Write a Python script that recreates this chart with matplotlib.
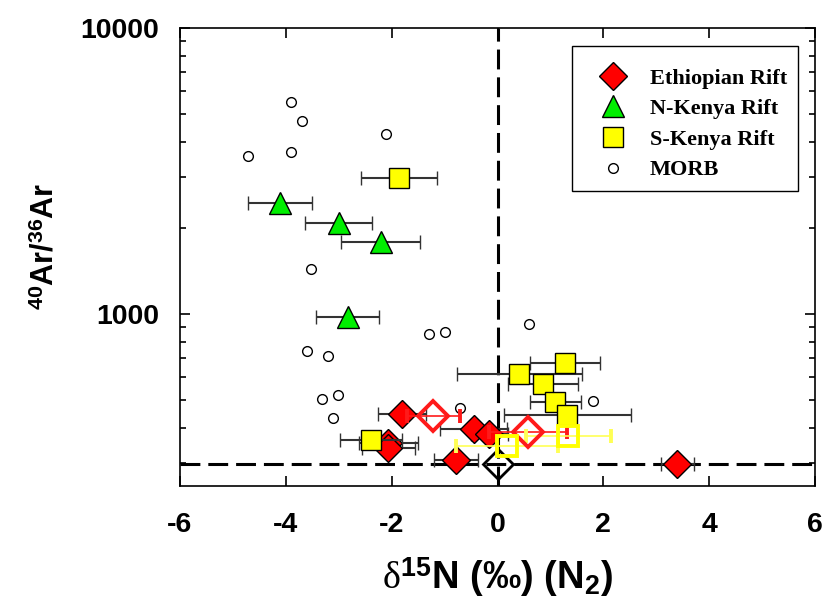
import matplotlib
matplotlib.use("Agg")
import matplotlib.pyplot as plt
from matplotlib.lines import Line2D
from matplotlib.ticker import LogLocator, NullFormatter, FixedLocator, FixedFormatter

# ---------------- data ----------------
# Ethiopian Rift (filled diamonds)
eth_x = [-1.80, -2.06, -2.06, -0.45, -0.16, -0.78, 3.40]
eth_y = [447, 354, 340, 396, 380, 309, 298]
eth_xerr = [0.45, 0.55, 0.50, 0.63, 0.35, 0.42, 0.31]

# Ethiopian Rift (open diamonds)
eth_open_x = [-1.21, 0.57]
eth_open_y = [440, 385]
eth_open_xerr = [0.50, 0.74]

# N-Kenya Rift (triangles)
nk_x = [-4.11, -3.00, -2.21, -2.83]
nk_y = [2450, 2085, 1782, 973]
nk_xerr = [0.60, 0.63, 0.75, 0.60]

# S-Kenya Rift (filled squares)
sk_x = [-1.86, -2.39, 0.41, 1.28, 0.86, 1.09, 1.32]
sk_y = [2980, 361, 615, 673, 569, 493, 444]
sk_xerr = [0.72, 0.58, 1.18, 0.66, 0.66, 0.48, 1.20]

# S-Kenya Rift (open squares)
sk_open_x = [0.18, 1.34]
sk_open_y = [344, 375]
sk_open_xerr = [0.96, 0.80]

# Air (open black diamond)
air_x = [0.0]
air_y = [298.6]

# MORB (open circles)
morb_x = [-3.90, -3.70, -2.10, -4.71, -3.91, -3.53, -1.30, -1.00,
          -3.60, -3.20, -3.31, -3.01, -3.10, -0.70, 0.59, 1.80]
morb_y = [5520, 4740, 4260, 3567, 3695, 1432, 851, 863,
          742, 713, 505, 521, 433, 469, 923, 497]

atm_ratio = 298.6
x_ticks = [-6, -4, -2, 0, 2, 4, 6]
y_ticks = [1000, 10000]
y_ticklabels = ["1000", "10000"]
legend_labels = ["Ethiopian Rift", "N-Kenya Rift", "S-Kenya Rift", "MORB"]

# ---------------- style ----------------
plt.rcParams['font.family'] = ['Liberation Sans', 'DejaVu Sans']
plt.rcParams['axes.unicode_minus'] = False
plt.rcParams['mathtext.fontset'] = 'custom'
plt.rcParams['mathtext.rm'] = 'Liberation Serif'
plt.rcParams['mathtext.it'] = 'Liberation Serif:italic'
plt.rcParams['mathtext.bf'] = 'Liberation Sans:bold'

fig = plt.figure(figsize=(8.24, 6.06), dpi=100)
ax = fig.add_axes([180/824, 1 - 486/606, (815-180)/824, (486-28)/606])

ax.set_yscale('log')
ax.set_xlim(-6, 6)
ax.set_ylim(250, 10000)

dash = (0, (6.5, 2.6))
ax.axhline(atm_ratio, color='black', lw=2.2, linestyle=dash, zorder=1)
ax.axvline(0, color='black', lw=2.2, linestyle=dash, zorder=1)

ecol = '#333333'
ms_sq = 14.5
ms_d = 14
ms_tri = 16.5
cap = 4.8

ax.plot(morb_x, morb_y, 'o', ms=7, mfc='white', mec='black', mew=1.0, zorder=2, linestyle='none')

ax.errorbar(nk_x, nk_y, xerr=nk_xerr, fmt='^', ms=ms_tri, mfc='#00ee00', mec='black', mew=1.0,
            ecolor=ecol, elinewidth=1.5, capsize=cap, capthick=1.5, zorder=3)
ax.errorbar(eth_x, eth_y, xerr=eth_xerr, fmt='D', ms=ms_d, mfc='#ff0000', mec='black', mew=1.0,
            ecolor=ecol, elinewidth=1.5, capsize=cap, capthick=1.5, zorder=3)
ax.errorbar(sk_x, sk_y, xerr=sk_xerr, fmt='s', ms=ms_sq, mfc='#ffff00', mec='black', mew=1.0,
            ecolor=ecol, elinewidth=1.5, capsize=cap, capthick=1.5, zorder=4)
ax.errorbar(eth_open_x, eth_open_y, xerr=eth_open_xerr, fmt='D', ms=15, mfc='none', mec='#ff1a1a', mew=2.8,
            ecolor='#ff1a1a', elinewidth=1.2, capsize=cap, capthick=1.2, zorder=5)
ax.errorbar(sk_open_x, sk_open_y, xerr=sk_open_xerr, fmt='s', ms=15, mfc='none', mec='#ffff00', mew=2.8,
            ecolor='#ffff55', elinewidth=1.2, capsize=cap, capthick=1.2, zorder=5)
ax.plot(air_x, air_y, 'D', ms=15, mfc='none', mec='black', mew=2.0, zorder=5, linestyle='none')

# ticks
ax.xaxis.set_major_locator(FixedLocator(x_ticks))
ax.yaxis.set_major_locator(FixedLocator(y_ticks))
ax.yaxis.set_major_formatter(FixedFormatter(y_ticklabels))
ax.yaxis.set_minor_locator(LogLocator(base=10, subs=[2, 3, 4, 5, 6, 7, 8, 9]))
ax.yaxis.set_minor_formatter(NullFormatter())
ax.tick_params(which='both', direction='in', top=True, right=True, width=1.2)
ax.tick_params(which='major', length=7, labelsize=20.5)
ax.tick_params(axis='y', which='major', pad=15)
ax.tick_params(axis='x', which='major', pad=19)
ax.tick_params(which='minor', length=4)
for lab in ax.get_xticklabels() + ax.get_yticklabels():
    lab.set_fontweight('bold')
for sp in ax.spines.values():
    sp.set_linewidth(1.2)

ax.set_ylabel(r'$^{\mathbf{40}}$Ar/$^{\mathbf{36}}$Ar', fontsize=22, fontweight='bold', va='center')
ax.yaxis.set_label_coords((45-180)/635, (486-246)/458)
ax.set_xlabel(r'$\mathrm{\delta}^{\mathbf{15}}$N (‰) (N$_{\mathbf{2}}$)', fontsize=27.5, fontweight='bold', va='center')
ax.xaxis.set_label_coords(0.5, (486-577)/458)

handles = [
    Line2D([], [], marker='D', ms=ms_d, mfc='#ff0000', mec='black', mew=1.0, linestyle='none'),
    Line2D([], [], marker='^', ms=ms_tri, mfc='#00ee00', mec='black', mew=1.0, linestyle='none'),
    Line2D([], [], marker='s', ms=ms_sq, mfc='#ffff00', mec='black', mew=1.0, linestyle='none'),
    Line2D([], [], marker='o', ms=7, mfc='white', mec='black', mew=1.0, linestyle='none'),
]
leg = ax.legend(handles, legend_labels, loc='upper right',
                bbox_to_anchor=((798-180)/635, (486-46)/458), borderaxespad=0,
                prop={'family': 'Liberation Serif', 'weight': 'bold', 'size': 16},
                title=' ', title_fontsize=1,
                frameon=True, fancybox=False, edgecolor='black', framealpha=1,
                handlelength=2.7, handletextpad=0.3, borderpad=0.5, labelspacing=0.45)
leg.get_frame().set_linewidth(1.0)

fig.savefig('out.png', dpi=100)
